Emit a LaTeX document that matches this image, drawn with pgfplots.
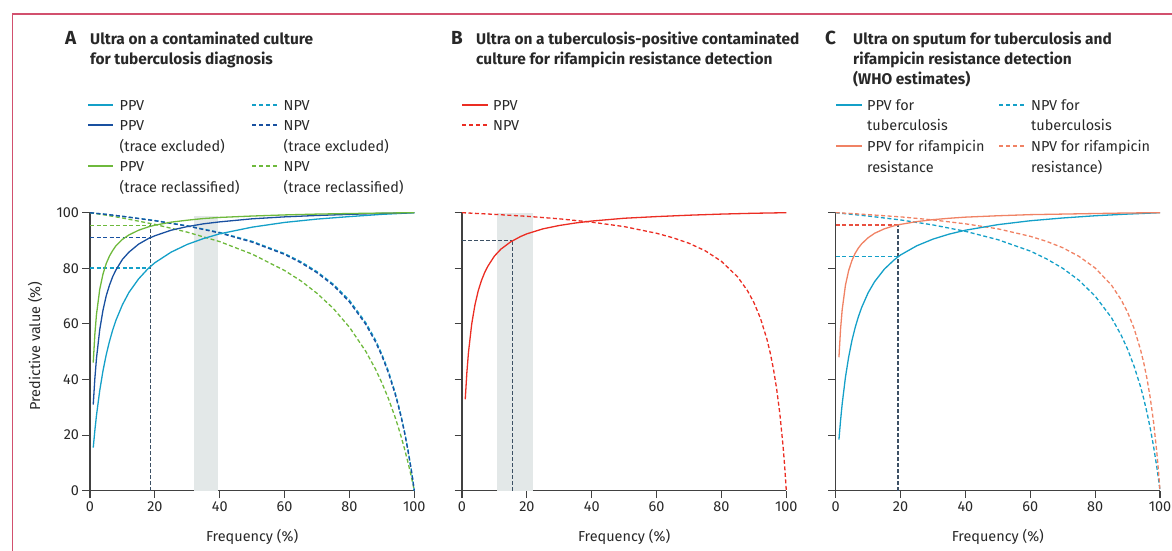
\documentclass[border=0pt]{standalone}
\usepackage{fontspec}
\setmainfont{Fira Sans}
\usepackage{pgfplots}
\pgfplotsset{compat=1.18}

\definecolor{lb}{RGB}{20,160,200}
\definecolor{db}{RGB}{25,80,160}
\definecolor{gr}{RGB}{110,185,60}
\definecolor{rd}{RGB}{235,45,35}
\definecolor{og}{RGB}{240,130,100}
\definecolor{rl}{RGB}{232,80,64}
\definecolor{vl}{RGB}{60,80,100}
\definecolor{band}{RGB}{227,232,232}
\definecolor{axc}{RGB}{65,65,65}
\definecolor{txt}{RGB}{40,40,40}
\definecolor{framec}{RGB}{210,80,110}

\newcommand{\lgf}{\fontsize{14.5}{17}\selectfont}
\newcommand{\ttl}{\fontsize{15.5}{19}\selectfont\bfseries}
\newcommand{\lett}{\fontsize{19}{22}\selectfont\bfseries}

\pgfplotsset{
  panel/.style={
    scale only axis, width=324.3bp, height=278bp,
    xmin=0, xmax=100, ymin=0, ymax=100,
    axis lines=left,
    axis line style={-, line width=1.3bp, draw=axc},
    tick style={line width=1.1bp, draw=axc},
    tick align=outside, major tick length=7.5bp,
    xtick={0,20,...,100}, ytick={0,20,...,100},
    tick label style={font=\lgf, text=txt},
    /pgf/number format/assume math mode=true,
    xlabel={Frequency (\%)},
    xlabel style={at={(axis description cs:0.5,0)}, anchor=center, yshift=-46bp, font=\lgf, text=txt},
    clip=false,
  },
  ppv/.style={line width=1.3bp},
  npv/.style={line width=1.3bp, dash pattern=on 4bp off 2.5bp},
  refl/.style={line width=1.2bp, dash pattern=on 4bp off 2.5bp},
}

\begin{document}
\begin{tikzpicture}
\useasboundingbox (0,0) rectangle (1172bp,551bp);
\draw[framec, line width=1.1bp] (12.3bp,-1bp) -- (12.3bp,537bp) -- (1173bp,537bp);

% ---------------- A ----------------
\begin{axis}[panel, at={(90bp,60.3bp)}, anchor=south west]
\addplot[fill=band, draw=none] coordinates {(32.2,0) (39.6,0) (39.6,98.8) (32.2,98.8)} -- cycle;
\addplot[refl, lb] coordinates {(0,80.1) (18.7,80.1)};
\addplot[refl, db] coordinates {(0,91.1) (18.7,91.1)};
\addplot[refl, gr] coordinates {(0,95.3) (18.7,95.3)};
\addplot[vl, line width=1.1bp, dash pattern=on 3.5bp off 2.5bp] coordinates {(18.7,0) (18.7,96.2)};
% NPV
\addplot[npv, gr] coordinates {
 (0,100) (5,99.1) (10,98.1) (20,95.8) (30,93.0) (40,89.6) (50,85.1) (60,79.2)
 (65,75.5) (70,71.0) (75,65.6) (80,58.8) (85,50.2) (88,43.8) (90,38.8) (92,33.2)
 (94,26.7) (95,23.1) (96,19.2) (97,15.0) (98,10.4) (99,5.5) (99.5,2.8) (100,0)};
\addplot[npv, lb] coordinates {
 (0,100) (5,99.4) (10,98.7) (20,97.2) (30,95.3) (40,92.9) (50,89.7) (60,85.3)
 (65,82.4) (70,78.8) (75,74.3) (80,68.5) (85,60.5) (88,54.3) (90,49.1) (92,43.1)
 (94,35.7) (95,31.4) (96,26.6) (97,21.2) (98,15.1) (99,8.1) (99.5,4.2) (100,0)};
\addplot[npv, db] coordinates {
 (0,100) (5,99.4) (10,98.7) (20,97.1) (30,95.2) (40,92.7) (50,89.4) (60,85.0)
 (65,82.0) (70,78.4) (75,73.9) (80,67.9) (85,59.9) (88,53.6) (90,48.5) (92,42.4)
 (94,35.1) (95,30.8) (96,26.1) (97,20.8) (98,14.7) (99,7.9) (99.5,4.1) (100,0)};
% PPV
\addplot[ppv, lb] coordinates {
 (1,15.5) (1.5,21.7) (2,27.1) (3,36.0) (4,43.1) (5,48.9) (6,53.7) (7,57.8) (8,61.3)
 (10,66.9) (12,71.3) (15,76.2) (18,80.0) (20,82.0) (25,85.8) (30,88.6) (35,90.7)
 (40,92.4) (50,94.8) (60,96.5) (70,97.7) (80,98.6) (90,99.4) (100,100)};
\addplot[ppv, db] coordinates {
 (1,31.0) (1.5,40.4) (2,47.6) (3,57.9) (4,64.9) (5,70.1) (6,73.9) (7,77.0) (8,79.4)
 (10,83.2) (12,85.8) (15,88.7) (18,90.7) (20,91.7) (25,93.7) (30,95.0) (35,96.0)
 (40,96.7) (50,97.8) (60,98.5) (70,99.0) (80,99.4) (90,99.75) (100,100)};
\addplot[ppv, gr] coordinates {
 (1,46.1) (1.5,56.3) (2,63.4) (3,72.4) (4,77.9) (5,81.7) (6,84.4) (7,86.4) (8,88.1)
 (10,90.4) (12,92.0) (15,93.7) (18,94.9) (20,95.5) (25,96.6) (30,97.3) (35,97.9)
 (40,98.3) (50,98.8) (60,99.2) (70,99.5) (80,99.7) (90,99.87) (100,100)};
\end{axis}

% ---------------- B ----------------
\begin{axis}[panel, at={(462bp,60.3bp)}, anchor=south west, yticklabels={}]
\addplot[fill=band, draw=none] coordinates {(10.8,0) (21.8,0) (21.8,99.8) (10.8,99.8)} -- cycle;
\addplot[vl, line width=1.1bp, dash pattern=on 3.5bp off 2.5bp] coordinates {(0,89.9) (15.5,89.9)};
\addplot[vl, line width=1.1bp, dash pattern=on 3.5bp off 2.5bp] coordinates {(15.5,0) (15.5,89.9)};
\addplot[npv, rd] coordinates {
 (0,100) (5,99.7) (10,99.4) (20,98.7) (30,97.8) (40,96.6) (50,95.0) (60,92.6)
 (65,91.0) (70,89.0) (75,86.3) (80,82.5) (85,76.9) (88,72.0) (90,67.7) (92,62.1)
 (94,54.6) (95,49.8) (96,44.0) (97,36.8) (98,27.8) (99,16.0) (99.5,8.7) (99.8,3.6) (100,0)};
\addplot[ppv, rd] coordinates {
 (1,32.9) (1.5,42.5) (2,49.8) (3,60.0) (4,66.9) (5,71.9) (6,75.6) (7,78.5) (8,80.8)
 (10,84.4) (12,86.9) (15,89.5) (18,91.4) (20,92.4) (25,94.2) (30,95.4) (35,96.3)
 (40,97.0) (50,98.0) (60,98.6) (70,99.1) (80,99.5) (90,99.8) (100,100)};
\end{axis}

% ---------------- C ----------------
\begin{axis}[panel, at={(835.7bp,60.3bp)}, anchor=south west, yticklabels={}]
\addplot[refl, rl] coordinates {(0,95.6) (19.2,95.6)};
\addplot[refl, lb] coordinates {(0,84.1) (19.2,84.1)};
\addplot[vl, line width=1.1bp, dash pattern=on 3.5bp off 2.5bp] coordinates {(19.2,0) (19.2,95.6)};
\addplot[npv, lb] coordinates {
 (0,100) (5,99.4) (10,98.8) (20,97.4) (30,95.6) (40,93.3) (50,90.3) (60,86.2)
 (65,83.4) (70,80.0) (75,75.7) (80,70.0) (85,62.3) (88,56.0) (90,50.9) (92,44.8)
 (94,37.4) (95,33.0) (96,28.0) (97,22.4) (98,16.0) (99,8.6) (99.5,4.5) (100,0)};
\addplot[npv, og] coordinates {
 (0,100) (5,99.7) (10,99.3) (20,98.5) (30,97.4) (40,96.0) (50,94.2) (60,91.5)
 (65,89.7) (70,87.4) (75,84.3) (80,80.1) (85,74.0) (88,68.7) (90,64.2) (92,58.4)
 (94,50.7) (95,45.9) (96,40.2) (97,33.3) (98,24.8) (99,14.0) (99.5,7.5) (100,0)};
\addplot[ppv, lb] coordinates {
 (1,18.4) (1.5,25.3) (2,31.25) (3,40.8) (4,48.1) (5,54.0) (6,58.7) (7,62.6) (8,65.9)
 (10,71.2) (12,75.2) (15,79.7) (18,83.0) (20,84.8) (25,88.1) (30,90.5) (35,92.3)
 (40,93.7) (50,95.7) (60,97.1) (70,98.1) (80,98.9) (90,99.5) (100,100)};
\addplot[ppv, og] coordinates {
 (1,48.0) (1.5,58.2) (2,65.1) (3,73.9) (4,79.2) (5,82.8) (6,85.4) (7,87.3) (8,88.8)
 (10,91.0) (12,92.6) (15,94.2) (18,95.3) (20,95.8) (25,96.8) (30,97.5) (35,98.0)
 (40,98.4) (50,98.9) (60,99.3) (70,99.5) (80,99.7) (90,99.9) (100,100)};
\end{axis}

% y label
\node[rotate=90, font=\lgf, text=txt] at (35bp,205bp) {Predictive value (\%)};

% titles
\node[anchor=base west, inner sep=0, font=\lett, text=txt] at (65bp,506.7bp) {A};
\node[anchor=base west, inner sep=0, font=\ttl, text=txt] at (90bp,506.7bp) {Ultra on a contaminated culture};
\node[anchor=base west, inner sep=0, font=\ttl, text=txt] at (90bp,486.4bp) {for tuberculosis diagnosis};

\node[anchor=base west, inner sep=0, font=\lett, text=txt] at (451bp,506.7bp) {B};
\node[anchor=base west, inner sep=0, font=\ttl, text=txt] at (476bp,506.7bp) {Ultra on a tuberculosis-positive contaminated};
\node[anchor=base west, inner sep=0, font=\ttl, text=txt] at (476bp,486.4bp) {culture for rifampicin resistance detection};

\node[anchor=base west, inner sep=0, font=\lett, text=txt] at (825bp,506.7bp) {C};
\node[anchor=base west, inner sep=0, font=\ttl, text=txt] at (853bp,506.7bp) {Ultra on sputum for tuberculosis and};
\node[anchor=base west, inner sep=0, font=\ttl, text=txt] at (853bp,486.4bp) {rifampicin resistance detection};
\node[anchor=base west, inner sep=0, font=\ttl, text=txt] at (853bp,466.1bp) {(WHO estimates)};

% legend A
\draw[lb, line width=1.3bp] (88bp,446bp) -- (113bp,446bp);
\draw[db, line width=1.3bp] (88bp,426bp) -- (113bp,426bp);
\draw[gr, line width=1.3bp] (88bp,385bp) -- (113bp,385bp);
\draw[lb, line width=1.3bp, dash pattern=on 4bp off 3bp] (252bp,446bp) -- (278bp,446bp);
\draw[db, line width=1.3bp, dash pattern=on 4bp off 3bp] (252bp,426bp) -- (278bp,426bp);
\draw[gr, line width=1.3bp, dash pattern=on 4bp off 3bp] (252bp,385bp) -- (278bp,385bp);
\begin{scope}[every node/.style={anchor=base west, inner sep=0, font=\lgf, text=txt}]
\node at (119.5bp,440.7bp) {PPV};
\node at (119.5bp,420.7bp) {PPV};
\node at (119.5bp,399.7bp) {(trace excluded)};
\node at (119.5bp,379.7bp) {PPV};
\node at (119.5bp,358.7bp) {(trace reclassified)};
\node at (283.5bp,440.7bp) {NPV};
\node at (283.5bp,420.7bp) {NPV};
\node at (283.5bp,399.7bp) {(trace excluded)};
\node at (283.5bp,379.7bp) {NPV};
\node at (283.5bp,358.7bp) {(trace reclassified)};
% legend B
\node at (493bp,440.7bp) {PPV};
\node at (493bp,420.7bp) {NPV};
% legend C
\node at (867bp,440.7bp) {PPV for};
\node at (867bp,420.7bp) {tuberculosis};
\node at (867bp,399.7bp) {PPV for rifampicin};
\node at (867bp,378.7bp) {resistance};
\node at (1031bp,440.7bp) {NPV for};
\node at (1031bp,420.7bp) {tuberculosis};
\node at (1031bp,399.7bp) {NPV for rifampicin};
\node at (1031bp,378.7bp) {resistance)};
\end{scope}
\draw[rd, line width=1.3bp] (462bp,446bp) -- (488bp,446bp);
\draw[rd, line width=1.3bp, dash pattern=on 4bp off 3bp] (462bp,426bp) -- (488bp,426bp);
\draw[lb, line width=1.3bp] (836bp,446bp) -- (862bp,446bp);
\draw[og, line width=1.3bp] (836bp,405bp) -- (862bp,405bp);
\draw[lb, line width=1.3bp, dash pattern=on 4bp off 3bp] (999bp,446bp) -- (1025bp,446bp);
\draw[og, line width=1.3bp, dash pattern=on 4bp off 3bp] (999bp,405bp) -- (1025bp,405bp);
\end{tikzpicture}
\end{document}
